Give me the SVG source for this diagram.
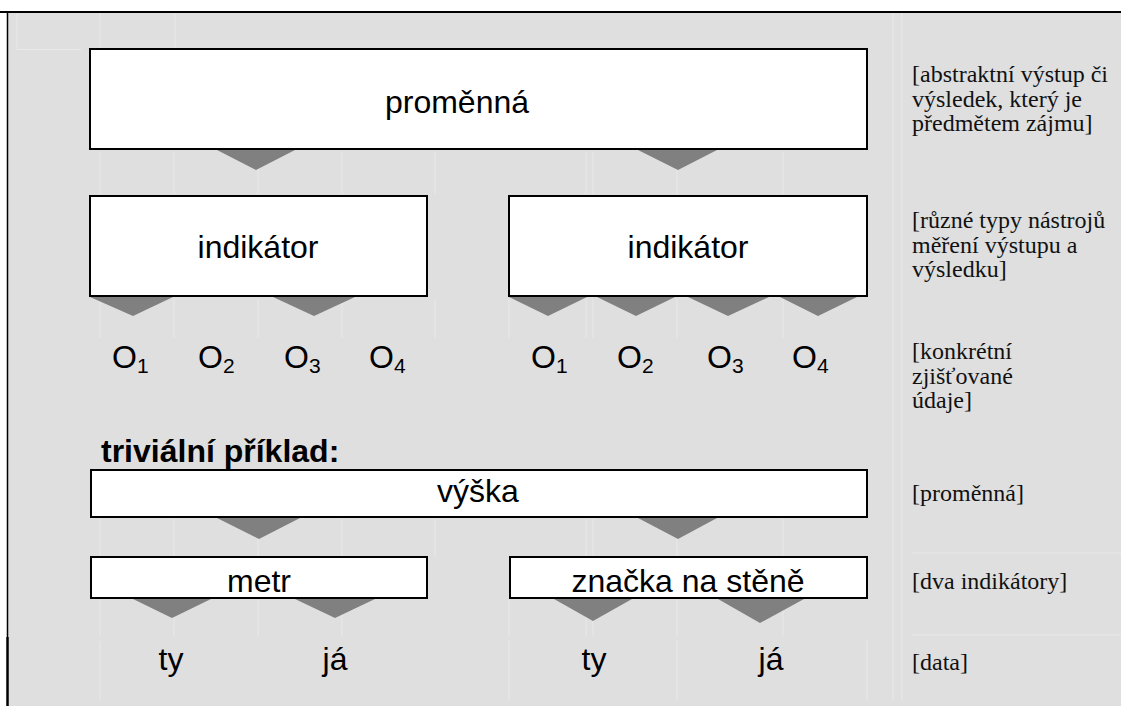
<svg xmlns="http://www.w3.org/2000/svg" width="1121" height="706" viewBox="0 0 1121 706">
  <style>
    .box { fill: #ffffff; stroke: #000000; stroke-width: 2; }
    .arrow { fill: #808080; }
    .grid { stroke: #e9e9e9; stroke-width: 1; fill: none; }
    .main { font-family: "Liberation Sans", Arial, sans-serif; font-size: 32px; fill: #000000; }
    .sub { font-size: 21px; }
    .title { font-family: "Liberation Sans", Arial, sans-serif; font-size: 32px; font-weight: bold; fill: #000000; }
    .note { font-family: "Liberation Serif", "Times New Roman", serif; font-size: 24px; fill: #111111; }
  </style>

  <!-- page background and frame -->
  <rect x="0" y="0" width="1121" height="706" fill="#ffffff"/>
  <rect x="8" y="12" width="1113" height="694" fill="#dfdfdf"/>

  <!-- faint table cell borders -->
  <path class="grid" d="M17,13 V49 M100,13 V49 M175,13 V49 M17,49.5 H81
                        M893,13 V700 M902,13 V700
                        M100,152 V194 M174,152 V194 M258,152 V194 M342,152 V194 M435,152 V194
                        M586,152 V194 M593,152 V194 M677,152 V194 M783,152 V194
                        M100,299 V338 M174,299 V338 M258,299 V338 M342,299 V338 M435,299 V338
                        M509,299 V338 M586,299 V338 M593,299 V338 M677,299 V338 M783,299 V338
                        M100,519 V556 M174,519 V556 M258,519 V556 M342,519 V556 M435,519 V556
                        M586,519 V556 M593,519 V556 M677,519 V556 M783,519 V556
                        M100,600 V636 M174,600 V636 M258,600 V636 M342,600 V636
                        M509,600 V636 M586,600 V636 M593,600 V636 M677,600 V636 M783,600 V636
                        M100,641 V700 M509,641 V700 M677,641 V700 M867,641 V700
                        M912,553 H1121 M912,635 H1121"/>

  <line x1="0" y1="12" x2="1121" y2="12" stroke="#000" stroke-width="2"/>
  <line x1="7.5" y1="12" x2="7.5" y2="637" stroke="#000" stroke-width="1.5"/>
  <line x1="7.5" y1="637" x2="7.5" y2="706" stroke="#000" stroke-width="2.5"/>

  <!-- connectors: downward wedges -->
  <g id="connectors">
    <polygon class="arrow" points="217,150 295,150 256,170"/>
    <polygon class="arrow" points="638,150 717,150 678,170"/>
    <polygon class="arrow" points="90,297 173,297 133,316"/>
    <polygon class="arrow" points="273,297 355,297 314,316"/>
    <polygon class="arrow" points="509,297 587,297 548,316"/>
    <polygon class="arrow" points="597,297 675,297 636,316"/>
    <polygon class="arrow" points="688,297 769,297 728,316"/>
    <polygon class="arrow" points="780,297 857,297 818,316"/>
    <polygon class="arrow" points="217,518 300,518 259,539"/>
    <polygon class="arrow" points="638,518 717,518 678,539"/>
    <polygon class="arrow" points="133,599 211,599 172,618"/>
    <polygon class="arrow" points="295,599 375,599 335,618"/>
    <polygon class="arrow" points="554,599 632,599 593,621"/>
    <polygon class="arrow" points="718,599 804,599 760,623"/>
  </g>

  <!-- general scheme -->
  <g id="variable">
    <rect class="box" x="90" y="49" width="777" height="100"/>
    <text class="main" x="457" y="113" text-anchor="middle">proměnná</text>
  </g>
  <g id="indicator-left">
    <rect class="box" x="90" y="196" width="337" height="100"/>
    <text class="main" x="258" y="258" text-anchor="middle">indikátor</text>
  </g>
  <g id="indicator-right">
    <rect class="box" x="509" y="196" width="358" height="100"/>
    <text class="main" x="688" y="258" text-anchor="middle">indikátor</text>
  </g>
  <g id="data-left">
    <text class="main" x="112" y="368">O<tspan class="sub" dy="5">1</tspan></text>
    <text class="main" x="198" y="368">O<tspan class="sub" dy="5">2</tspan></text>
    <text class="main" x="284" y="368">O<tspan class="sub" dy="5">3</tspan></text>
    <text class="main" x="369" y="368">O<tspan class="sub" dy="5">4</tspan></text>
  </g>
  <g id="data-right">
    <text class="main" x="531" y="368">O<tspan class="sub" dy="5">1</tspan></text>
    <text class="main" x="617" y="368">O<tspan class="sub" dy="5">2</tspan></text>
    <text class="main" x="707" y="368">O<tspan class="sub" dy="5">3</tspan></text>
    <text class="main" x="792" y="368">O<tspan class="sub" dy="5">4</tspan></text>
  </g>

  <!-- notes on the right -->
  <g id="note-variable">
    <text class="note" x="912" y="82">[abstraktní výstup či</text>
    <text class="note" x="912" y="106.5">výsledek, který je</text>
    <text class="note" x="912" y="131">předmětem zájmu]</text>
  </g>
  <g id="note-indicator">
    <text class="note" x="912" y="228">[různé typy nástrojů</text>
    <text class="note" x="912" y="252.5">měření výstupu a</text>
    <text class="note" x="912" y="277">výsledku]</text>
  </g>
  <g id="note-data">
    <text class="note" x="912" y="359">[konkrétní</text>
    <text class="note" x="912" y="383.5">zjišťované</text>
    <text class="note" x="912" y="408">údaje]</text>
  </g>

  <!-- worked example -->
  <g id="example-title">
    <text class="title" x="101" y="462">triviální příklad:</text>
  </g>
  <g id="height">
    <rect class="box" x="91" y="470" width="776" height="47"/>
    <text class="main" x="478" y="502" text-anchor="middle">výška</text>
  </g>
  <g id="meter">
    <rect class="box" x="91" y="557" width="336" height="41"/>
    <text class="main" x="259" y="592" text-anchor="middle">metr</text>
  </g>
  <g id="wall-mark">
    <rect class="box" x="510" y="557" width="357" height="41"/>
    <text class="main" x="688" y="592" text-anchor="middle">značka na stěně</text>
  </g>
  <g id="example-data">
    <text class="main" x="171" y="670" text-anchor="middle">ty</text>
    <text class="main" x="335" y="670" text-anchor="middle">já</text>
    <text class="main" x="594" y="670" text-anchor="middle">ty</text>
    <text class="main" x="771" y="670" text-anchor="middle">já</text>
  </g>
  <g id="note-example">
    <text class="note" x="912" y="501">[proměnná]</text>
    <text class="note" x="912" y="589">[dva indikátory]</text>
    <text class="note" x="912" y="670">[data]</text>
  </g>
</svg>
